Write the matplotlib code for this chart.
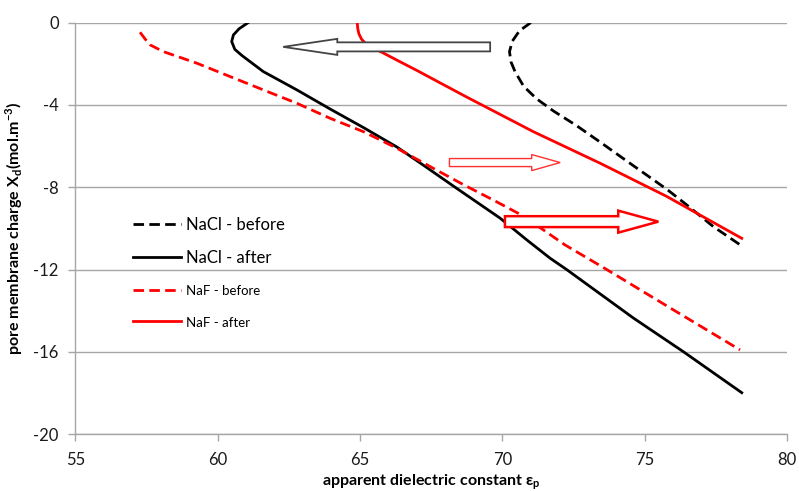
import matplotlib
matplotlib.use("Agg")
import matplotlib.pyplot as plt
from matplotlib.patches import FancyArrow

plt.rcParams['font.family'] = ['Lato', 'DejaVu Sans']

# ---- data ----
nacl_before_x = [71.0, 70.6, 70.35, 70.25, 70.3, 70.45, 70.75, 71.2, 71.8, 72.6, 73.43, 74.6, 75.78, 76.48, 77.41, 78.41]
nacl_before_y = [0, -0.4, -0.9, -1.41, -1.9, -2.4, -3.1, -3.7, -4.3, -5.0, -5.8, -6.95, -8.1, -8.86, -9.91, -10.85]

nacl_after_x = [61.07, 60.75, 60.55, 60.49, 60.6, 60.85, 61.6, 62.78, 63.95, 65.12, 66.3, 67.3, 68.34, 69.92, 70.86, 71.68, 72.26, 74.6, 76.36, 78.41]
nacl_after_y = [0, -0.3, -0.6, -0.92, -1.3, -1.6, -2.38, -3.27, -4.2, -5.1, -6.05, -7.0, -8.0, -9.5, -10.56, -11.45, -12.0, -14.35, -15.99, -17.98]

naf_before_x = [57.27, 57.45, 57.62, 58.09, 59.26, 60.43, 61.6, 62.78, 63.95, 65.12, 66.29, 67.6, 68.6, 69.68, 70.74, 72.2, 73.67, 76.0, 78.35]
naf_before_y = [-0.47, -0.8, -1.08, -1.41, -1.97, -2.62, -3.27, -3.92, -4.65, -5.3, -6.1, -7.1, -7.85, -8.62, -9.4, -10.8, -12.0, -13.95, -15.9]

naf_after_x = [64.9, 64.92, 64.96, 65.05, 65.18, 65.45, 65.82, 66.4, 66.99, 67.8, 68.75, 71.09, 73.43, 75.78, 78.41]
naf_after_y = [0, -0.3, -0.55, -0.8, -1.0, -1.22, -1.48, -1.9, -2.32, -2.92, -3.62, -5.3, -6.83, -8.45, -10.48]

labels = ['NaCl - before', 'NaCl - after', 'NaF - before', 'NaF - after']
x_ticks = [55, 60, 65, 70, 75, 80]
y_ticks = [0, -4, -8, -12, -16, -20]

# ---- figure ----
fig = plt.figure(figsize=(7.99, 4.91), dpi=100)
ax = fig.add_axes([0.0944, 0.1155, 0.8906, 0.8385])

gray = '#a6a6a6'
lw = 2.0
dash = (0, (3.8, 1.9))
ax.plot(nacl_before_x, nacl_before_y, color='black', lw=lw, ls=dash, label=labels[0])
ax.plot(nacl_after_x, nacl_after_y, color='black', lw=lw, label=labels[1])
ax.plot(naf_before_x, naf_before_y, color='#ff0000', lw=lw, ls=dash, label=labels[2])
ax.plot(naf_after_x, naf_after_y, color='#ff0000', lw=lw, label=labels[3])

# arrows (annotations)
ax.add_patch(FancyArrow(69.57, -1.18, 62.3 - 69.57, 0, width=0.44, head_width=0.78, head_length=1.9,
                        length_includes_head=True, facecolor='white', edgecolor='#444444', lw=1.3, zorder=5))
ax.add_patch(FancyArrow(68.14, -6.8, 72.03 - 68.14, 0, width=0.39, head_width=0.78, head_length=1.0,
                        length_includes_head=True, facecolor='white', edgecolor='#ff3030', lw=1.0, zorder=5))
ax.add_patch(FancyArrow(70.09, -9.67, 75.48 - 70.09, 0, width=0.53, head_width=1.07, head_length=1.41,
                        length_includes_head=True, facecolor='white', edgecolor='#ff0000', lw=1.8, zorder=5))

ax.set_xlim(55, 80)
ax.set_ylim(-20, 0)
ax.set_xticks(x_ticks)
ax.set_yticks(y_ticks)
ax.set_xticklabels([str(v) for v in x_ticks])
ax.set_yticklabels([str(v) for v in y_ticks])

ax.yaxis.grid(True, color=gray, lw=1.0)
ax.set_axisbelow(True)
for s in ['top', 'right']:
    ax.spines[s].set_visible(False)
for s in ['left', 'bottom']:
    ax.spines[s].set_color(gray)
    ax.spines[s].set_linewidth(1.0)
ax.tick_params(axis='both', colors=gray, length=5, width=1.0, labelsize=12, labelcolor='#1a1a1a')
ax.tick_params(axis='y', pad=7)
ax.tick_params(axis='x', pad=8)

ax.set_xlabel('apparent dielectric constant ε$_\\mathregular{p}$', fontsize=11.5, fontweight='bold', labelpad=3)
ax.set_ylabel('pore membrane charge X$_\\mathregular{d}$(mol.m$^\\mathregular{-3}$)', fontsize=11.5,
              fontweight='bold', labelpad=6)

leg = ax.legend(loc='upper left', bbox_to_anchor=(0.06, 0.565), frameon=False, fontsize=12,
                handlelength=2.9, handletextpad=0.25, labelspacing=1.05)
for t in leg.get_texts()[2:]:
    t.set_fontsize(9.5)

fig.savefig('out.png', dpi=100)
